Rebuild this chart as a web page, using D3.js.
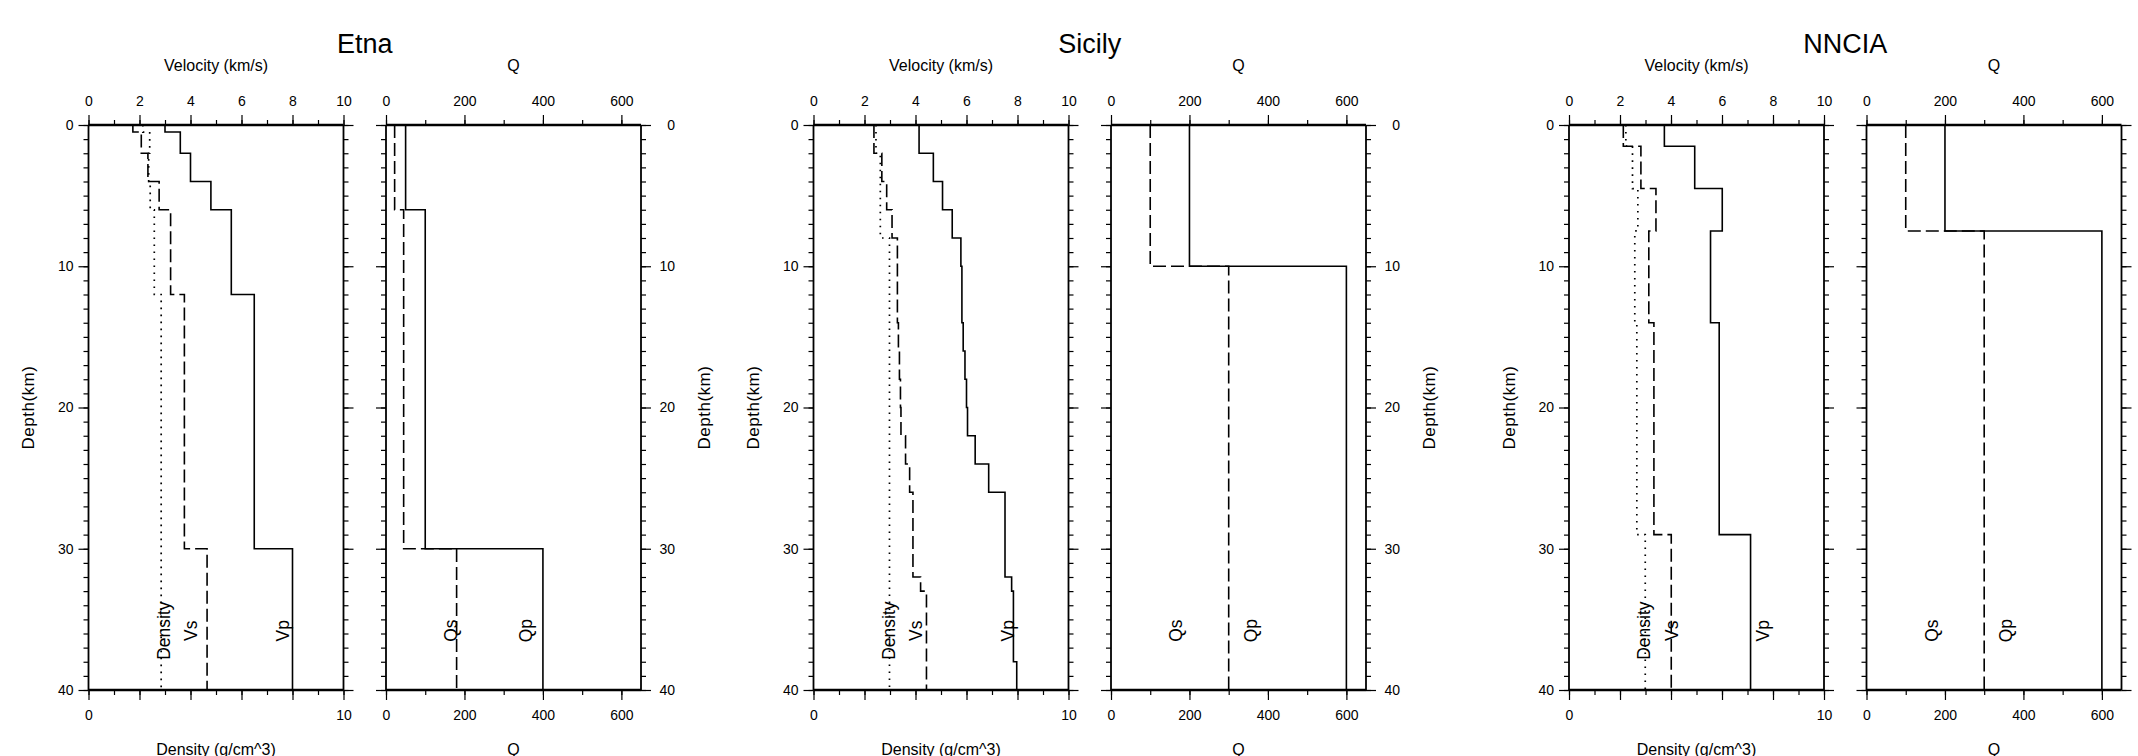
<!DOCTYPE html>
<html>
<head>
<meta charset="utf-8">
<script src="https://cdn.jsdelivr.net/npm/d3@7"></script>
<style>
  html, body { margin: 0; padding: 0; background: #fff; }
  svg { display: block; font-family: "Liberation Sans", Arial, Helvetica, sans-serif; }
</style>
</head>
<body>
<script>
// ---------------- data ----------------
const chartNames = ["Etna", "Sicily", "NNCIA"];
const velTicks = [0, 2, 4, 6, 8, 10];
const velMinorTicks = [0, 1, 2, 3, 4, 5, 6, 7, 8, 9, 10];
const densTickLabels = [0, 10];
const qTicks = [0, 200, 400, 600];
const qMinorTicks = [0, 100, 200, 300, 400, 500, 600];
const depthTicks = [0, 10, 20, 30, 40];
const depthMinorTicks = d3.range(0, 41, 1);

// Etna layers (top depth, km)
const etnaTop = [0, 0.5, 2, 4, 6, 12, 30];
const etnaVp  = [3.0, 3.6, 4.0, 4.8, 5.6, 6.5, 8.0];
const etnaVs  = [1.74, 2.07, 2.33, 2.77, 3.22, 3.76, 4.65];
const etnaRho = [2.13, 2.40, 2.36, 2.42, 2.58, 2.85, 2.85];
const etnaQp  = [50, 50, 50, 50, 100, 100, 400];
const etnaQs  = [22, 22, 22, 22, 45, 45, 180];

// Sicily layers
const sicilyTop = [0, 2, 4, 6, 8, 10, 14, 16, 18, 20, 22, 24, 26, 32, 33, 38];
const sicilyVp  = [4.14, 4.70, 5.06, 5.44, 5.78, 5.82, 5.87, 5.94, 6.00, 6.04, 6.34, 6.87, 7.51, 7.77, 7.84, 7.97];
const sicilyVs  = [2.37, 2.68, 2.87, 3.08, 3.29, 3.29, 3.33, 3.37, 3.41, 3.43, 3.61, 3.77, 3.90, 4.20, 4.43, 4.43];
const sicilyRho = [2.45, 2.62, 2.62, 2.62, 2.98, 2.98, 2.98, 2.98, 2.98, 2.98, 2.98, 2.98, 2.98, 2.98, 2.98, 2.98];
const sicilyQp  = [200, 200, 200, 200, 200, 600, 600, 600, 600, 600, 600, 600, 600, 600, 600, 600];
const sicilyQs  = [100, 100, 100, 100, 100, 300, 300, 300, 300, 300, 300, 300, 300, 300, 300, 300];

// NNCIA layers
const nnciaTop = [0, 1.5, 4.5, 7.5, 14, 29];
const nnciaVp  = [3.74, 4.93, 6.01, 5.55, 5.89, 7.12];
const nnciaVs  = [2.13, 2.82, 3.41, 3.13, 3.33, 4.01];
const nnciaRho = [2.23, 2.49, 2.70, 2.58, 2.66, 2.99];
const nnciaQp  = [200, 200, 200, 600, 600, 600];
const nnciaQs  = [100, 100, 100, 300, 300, 300];

const profiles = [
  { name: chartNames[0], top: etnaTop,   vp: etnaVp,   vs: etnaVs,   rho: etnaRho,   qp: etnaQp,   qs: etnaQs },
  { name: chartNames[1], top: sicilyTop, vp: sicilyVp, vs: sicilyVs, rho: sicilyRho, qp: sicilyQp, qs: sicilyQs },
  { name: chartNames[2], top: nnciaTop,  vp: nnciaVp,  vs: nnciaVs,  rho: nnciaRho,  qp: nnciaQp,  qs: nnciaQs }
];

// ---------------- layout ----------------
const W = 2138, H = 756;
const yTop = 125, yBot = 690;
const panelW = 255, gap = 42.5;
const chartX = [88.5, 813.5, 1569];
const FONT = '"Liberation Sans", Arial, Helvetica, sans-serif';

const svg = d3.select("body").append("svg").attr("width", W).attr("height", H);

const y = d3.scaleLinear().domain([0, 40]).range([yTop, yBot]);

function profilePoints(top, vals) {
  const pts = top.map((t, i) => ({ d: t, v: vals[i] }));
  pts.push({ d: 40, v: vals[vals.length - 1] });
  return pts;
}

function frame(g, x0, x1) {
  g.append("line").attr("x1", x0).attr("x2", x0).attr("y1", yTop).attr("y2", yBot)
    .attr("stroke", "#000").attr("stroke-width", 1.8);
  g.append("line").attr("x1", x1).attr("x2", x1).attr("y1", yTop).attr("y2", yBot)
    .attr("stroke", "#000").attr("stroke-width", 1.8);
  g.append("line").attr("x1", x0).attr("x2", x1).attr("y1", yTop).attr("y2", yTop)
    .attr("stroke", "#000").attr("stroke-width", 2.6);
  g.append("line").attr("x1", x0).attr("x2", x1).attr("y1", yBot).attr("y2", yBot)
    .attr("stroke", "#000").attr("stroke-width", 2.6);
}

function styleAxis(sel) {
  sel.select(".domain").remove();
  sel.selectAll("line").attr("stroke", "#000").attr("stroke-width", 1.2);
  sel.selectAll("text").attr("fill", "#000").style("font-family", FONT).style("font-size", "14px");
}

function depthAxes(g, xLeft, xRight, leftLabels, rightLabels) {
  // left side
  const lMin = g.append("g").attr("transform", `translate(${xLeft},0)`)
    .call(d3.axisLeft(y).tickValues(depthMinorTicks).tickSize(5).tickFormat(""));
  styleAxis(lMin);
  const lMaj = g.append("g").attr("transform", `translate(${xLeft},0)`)
    .call(d3.axisLeft(y).tickValues(depthTicks).tickSize(10).tickPadding(5)
      .tickFormat(leftLabels ? d3.format("d") : ""));
  styleAxis(lMaj);
  // right side
  const rMin = g.append("g").attr("transform", `translate(${xRight},0)`)
    .call(d3.axisRight(y).tickValues(depthMinorTicks).tickSize(5).tickFormat(""));
  styleAxis(rMin);
  const rMaj = g.append("g").attr("transform", `translate(${xRight},0)`)
    .call(d3.axisRight(y).tickValues(depthTicks).tickSize(10).tickPadding(5)
      .tickFormat(rightLabels ? d3.format("d") : ""));
  styleAxis(rMaj);
  if (rightLabels) rMaj.selectAll("text").attr("x", 34).attr("text-anchor", "end");
}

profiles.forEach((p, ci) => {
  const vx0 = chartX[ci], vx1 = vx0 + panelW;
  const qx0 = vx1 + gap, qx1 = qx0 + panelW;
  const xV = d3.scaleLinear().domain([0, 10]).range([vx0, vx1]);
  const xQ = d3.scaleLinear().domain([0, 650]).range([qx0, qx1]);
  const g = svg.append("g");
  // right-hand depth annotations fall beyond the page for the last chart
  const rightFits = qx1 + 34 <= W;

  // titles
  g.append("text").attr("x", (vx0 + qx1) / 2).attr("y", 52.5).attr("text-anchor", "middle")
    .style("font-family", FONT).style("font-size", "27px").text(p.name);
  g.append("text").attr("x", (vx0 + vx1) / 2).attr("y", 71).attr("text-anchor", "middle")
    .style("font-family", FONT).style("font-size", "16px").text("Velocity (km/s)");
  g.append("text").attr("x", (qx0 + qx1) / 2).attr("y", 71).attr("text-anchor", "middle")
    .style("font-family", FONT).style("font-size", "16px").text("Q");
  g.append("text").attr("x", (vx0 + vx1) / 2).attr("y", 754.5).attr("text-anchor", "middle")
    .style("font-family", FONT).style("font-size", "16px").text("Density (g/cm^3)");
  g.append("text").attr("x", (qx0 + qx1) / 2).attr("y", 754.5).attr("text-anchor", "middle")
    .style("font-family", FONT).style("font-size", "16px").text("Q");

  // depth labels
  const ym = (yTop + yBot) / 2;
  const depthLabelX = [vx0 - 60];
  if (rightFits) depthLabelX.push(qx1 + 63.5);
  depthLabelX.forEach(lx => {
    g.append("text").attr("transform", `translate(${lx},${ym}) rotate(-90)`)
      .attr("text-anchor", "middle").attr("dominant-baseline", "central")
      .style("font-family", FONT).style("font-size", "17px").style("letter-spacing", "0.5px")
      .text("Depth(km)");
  });

  // top axes
  const tvMin = g.append("g").attr("transform", `translate(0,${yTop})`)
    .call(d3.axisTop(xV).tickValues(velMinorTicks).tickSize(5).tickFormat(""));
  styleAxis(tvMin);
  const tvMaj = g.append("g").attr("transform", `translate(0,${yTop})`)
    .call(d3.axisTop(xV).tickValues(velTicks).tickSize(10).tickPadding(9).tickFormat(d3.format("d")));
  styleAxis(tvMaj);
  const tqMin = g.append("g").attr("transform", `translate(0,${yTop})`)
    .call(d3.axisTop(xQ).tickValues(qMinorTicks).tickSize(5).tickFormat(""));
  styleAxis(tqMin);
  const tqMaj = g.append("g").attr("transform", `translate(0,${yTop})`)
    .call(d3.axisTop(xQ).tickValues(qTicks).tickSize(10).tickPadding(9).tickFormat(d3.format("d")));
  styleAxis(tqMaj);

  // bottom axes
  const bvMin = g.append("g").attr("transform", `translate(0,${yBot})`)
    .call(d3.axisBottom(xV).tickValues(velMinorTicks).tickSize(5).tickFormat(""));
  styleAxis(bvMin);
  const bvMaj = g.append("g").attr("transform", `translate(0,${yBot})`)
    .call(d3.axisBottom(xV).tickValues(velTicks).tickSize(10).tickPadding(10)
      .tickFormat(d => densTickLabels.includes(d) ? d3.format("d")(d) : ""));
  styleAxis(bvMaj);
  const bqMin = g.append("g").attr("transform", `translate(0,${yBot})`)
    .call(d3.axisBottom(xQ).tickValues(qMinorTicks).tickSize(5).tickFormat(""));
  styleAxis(bqMin);
  const bqMaj = g.append("g").attr("transform", `translate(0,${yBot})`)
    .call(d3.axisBottom(xQ).tickValues(qTicks).tickSize(10).tickPadding(10).tickFormat(d3.format("d")));
  styleAxis(bqMaj);

  // depth axes
  depthAxes(g, vx0, vx1, true, false);
  depthAxes(g, qx0, qx1, false, rightFits);

  // profiles
  const lineV = d3.line().x(d => xV(d.v)).y(d => y(d.d)).curve(d3.curveStepBefore);
  const lineQ = d3.line().x(d => xQ(d.v)).y(d => y(d.d)).curve(d3.curveStepBefore);
  const solid = { dash: null, w: 1.6 };
  const dashed = { dash: "13,5", w: 1.6 };
  const dotted = { dash: "1.6,5.4", w: 1.7 };
  [[lineV, p.rho, dotted], [lineV, p.vs, dashed], [lineV, p.vp, solid],
   [lineQ, p.qs, dashed], [lineQ, p.qp, solid]].forEach(([ln, vals, st]) => {
    g.append("path").datum(profilePoints(p.top, vals)).attr("d", ln)
      .attr("fill", "none").attr("stroke", "#000").attr("stroke-width", st.w)
      .attr("stroke-dasharray", st.dash);
  });

  // frames
  frame(g, vx0, vx1);
  frame(g, qx0, qx1);

  // in-panel labels
  const labY = y(35.8);
  [["Density", xV(2.96)], ["Vs", xV(4.03)], ["Vp", xV(7.62)],
   ["Qs", xQ(166)], ["Qp", xQ(356)]].forEach(([t, lx]) => {
    g.append("text").attr("transform", `translate(${lx},${labY}) rotate(-90)`)
      .attr("text-anchor", "middle").attr("dominant-baseline", "central")
      .style("font-family", FONT).style("font-size", "17.5px").text(t);
  });
});
</script>
</body>
</html>
